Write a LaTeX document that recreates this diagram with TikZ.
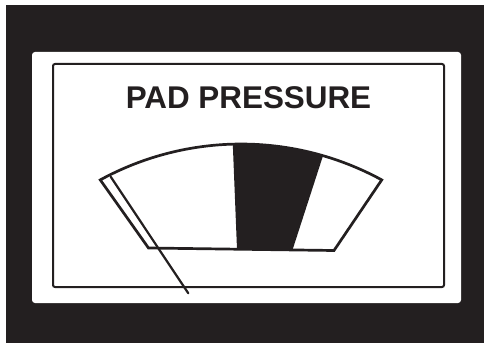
\documentclass[tikz,border=0pt]{standalone}
\usepackage{fontspec}
\setmainfont{Liberation Sans}
\usetikzlibrary{calc}
\definecolor{ink}{HTML}{231F20}
\begin{document}
\begin{tikzpicture}[x=1pt,y=1pt,
  frame/.style={draw=ink,line width=2pt,rounded corners=2pt},
  gaugeline/.style={draw=ink,line width=2.7pt},
  needle/.style={draw=ink,line width=2.2pt,line cap=round}]
\useasboundingbox (0,0) rectangle (486,346);
% outer black frame
\fill[ink] (6,3) rectangle (484,341);
% white panel
\fill[white,rounded corners=3pt] (32,43) rectangle (461,294);
% thin inner rectangle
\draw[frame] (53,59) rectangle (444,282);
% title
\node[anchor=base,text=ink,font={\fontsize{31.4}{36}\selectfont\bfseries},inner sep=0pt] (title) at (248.5,238) {PAD PRESSURE};
% gauge geometry
\coordinate (C) at (241,-92);
\coordinate (BL) at (148.5,98);
\coordinate (BR) at (334,95.5);
% black sector
\fill[ink] ($(C)+(91.6:294)$) arc[start angle=91.6,end angle=73.8,radius=294]
  -- (292.5,96.1) -- (237,96.8) -- cycle;
% gauge outline
\draw[gaugeline] ($(C)+(118.6:294)$) arc[start angle=118.6,end angle=61.4,radius=294]
  -- (BR) -- (BL) -- cycle;
% needle
\coordinate (n1) at (110.7,169.3);
\coordinate (n2) at (188.3,52.7);
\draw[needle] (n1) -- (n2);
\end{tikzpicture}
\end{document}
